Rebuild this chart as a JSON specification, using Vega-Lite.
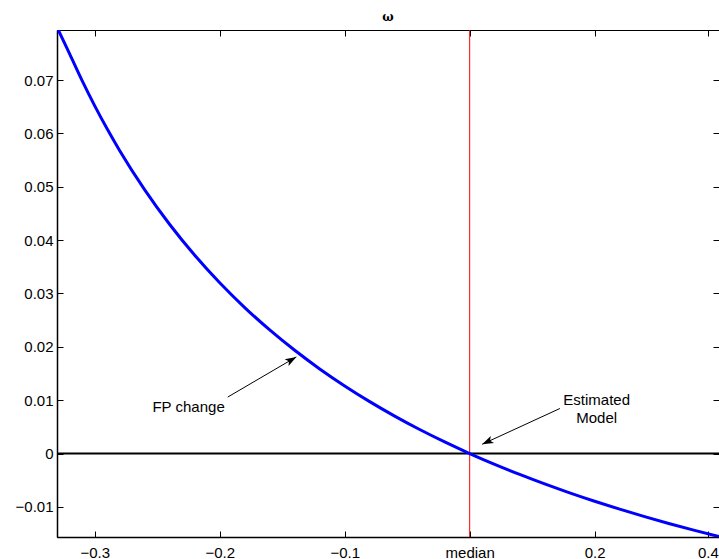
{
  "$schema": "https://vega.github.io/schema/vega-lite/v6.json",
  "autosize": {"type": "none"},
  "padding": {"left": 57, "top": 30, "right": 0, "bottom": 22},
  "width": 662,
  "height": 507,
  "background": "white",
  "config": {
    "view": {"stroke": "black", "strokeWidth": 1},
    "font": "Liberation Sans",
    "axis": {
      "grid": false,
      "domainColor": "black",
      "tickColor": "black",
      "labelColor": "black",
      "labelFont": "Liberation Sans",
      "labelFontSize": 15,
      "title": null
    }
  },
  "title": {"text": "ω", "fontSize": 12, "fontWeight": "bold", "font": "DejaVu Serif", "anchor": "middle", "offset": 6, "color": "black"},
  "resolve": {"axis": {"x": "independent", "y": "independent"}},
  "datasets": {
    "curve": [
      {"x": -0.33, "y": 0.0798},
      {"x": -0.32, "y": 0.07484},
      {"x": -0.31, "y": 0.06982},
      {"x": -0.30, "y": 0.06515},
      {"x": -0.29, "y": 0.06081},
      {"x": -0.28, "y": 0.05676},
      {"x": -0.26, "y": 0.04941},
      {"x": -0.24, "y": 0.04292},
      {"x": -0.22, "y": 0.03716},
      {"x": -0.20, "y": 0.03201},
      {"x": -0.18, "y": 0.02736},
      {"x": -0.16, "y": 0.02317},
      {"x": -0.14, "y": 0.01935},
      {"x": -0.12, "y": 0.01586},
      {"x": -0.10, "y": 0.01267},
      {"x": -0.08, "y": 0.00973},
      {"x": -0.06, "y": 0.00702},
      {"x": -0.04, "y": 0.00450},
      {"x": -0.02, "y": 0.00217},
      {"x": 0.00, "y": 0.0},
      {"x": 0.02, "y": -0.00203},
      {"x": 0.04, "y": -0.00392},
      {"x": 0.06, "y": -0.00570},
      {"x": 0.08, "y": -0.00737},
      {"x": 0.10, "y": -0.00894},
      {"x": 0.12, "y": -0.01042},
      {"x": 0.14, "y": -0.01182},
      {"x": 0.16, "y": -0.01315},
      {"x": 0.18, "y": -0.01440},
      {"x": 0.20, "y": -0.01559}
    ],
    "arrows": [
      {"label": "fp", "x": -0.1936, "y": 0.01058, "x2": -0.1387, "y2": 0.01811},
      {"label": "est", "x": 0.0722, "y": 0.00844, "x2": 0.0100, "y2": 0.00174}
    ],
    "texts": [
      {"text": "FP change", "x": -0.2249, "y": 0.00874},
      {"text": "Estimated", "x": 0.1016, "y": 0.0101},
      {"text": "Model", "x": 0.1016, "y": 0.00675}
    ]
  },
  "layer": [
    {
      "data": {"name": "curve"},
      "mark": {"type": "line", "color": "#0000ff", "strokeWidth": 3, "clip": true, "opacity": 0},
      "encoding": {
        "x": {"field": "x", "type": "quantitative",
          "scale": {"domain": [-0.3302, 0.1995], "nice": false, "zero": false},
          "axis": {"orient": "bottom", "values": [-0.3, -0.2, -0.1, 0, 0.1, 0.1906], "tickSize": -6, "labelPadding": 14, "domainWidth": 1.5,
            "labelExpr": "datum.value == 0 ? 'median' : datum.value > 0.15 ? '0.4' : datum.value > 0.05 ? '0.2' : format(datum.value, '.1f')"}},
        "y": {"field": "y", "type": "quantitative",
          "scale": {"domain": [-0.01564, 0.07937], "nice": false, "zero": false},
          "axis": {"orient": "left", "values": [-0.01, 0, 0.01, 0.02, 0.03, 0.04, 0.05, 0.06, 0.07], "tickSize": -6, "labelPadding": 10, "domainWidth": 1.5,
            "labelExpr": "datum.value == 0 ? '0' : format(datum.value, '.2f')"}}
      }
    },
    {
      "data": {"values": [{"y": 0}]},
      "mark": {"type": "rule", "color": "black", "strokeWidth": 2},
      "encoding": {
        "y": {"field": "y", "type": "quantitative",
          "axis": {"orient": "right", "values": [-0.01, 0, 0.01, 0.02, 0.03, 0.04, 0.05, 0.06, 0.07], "labels": false, "tickSize": -6, "domain": false}}
      }
    },
    {
      "data": {"values": [{"x": 0}]},
      "mark": {"type": "rule", "color": "#ff0000", "strokeWidth": 1},
      "encoding": {
        "x": {"field": "x", "type": "quantitative",
          "axis": {"orient": "top", "values": [-0.3, -0.2, -0.1, 0, 0.1, 0.1906], "labels": false, "tickSize": -6, "domain": false}}
      }
    },
    {
      "data": {"name": "curve"},
      "mark": {"type": "line", "color": "#0000ff", "strokeWidth": 3, "clip": true, "interpolate": "monotone"},
      "encoding": {
        "x": {"field": "x", "type": "quantitative", "axis": null},
        "y": {"field": "y", "type": "quantitative", "axis": null}
      }
    },
    {
      "data": {"name": "arrows"},
      "mark": {"type": "rule", "color": "black", "strokeWidth": 1},
      "encoding": {
        "x": {"field": "x", "type": "quantitative", "axis": null},
        "y": {"field": "y", "type": "quantitative", "axis": null},
        "x2": {"field": "x2"},
        "y2": {"field": "y2"}
      }
    },
    {
      "data": {"name": "arrows"},
      "transform": [{"filter": "datum.label == 'fp'"}],
      "mark": {"type": "point", "shape": "M0,0L0.45,1.3L0,1.0L-0.45,1.3Z", "filled": true, "color": "black", "opacity": 1, "size": 300, "angle": 59.7},
      "encoding": {
        "x": {"field": "x2", "type": "quantitative", "axis": null},
        "y": {"field": "y2", "type": "quantitative", "axis": null}
      }
    },
    {
      "data": {"name": "arrows"},
      "transform": [{"filter": "datum.label == 'est'"}],
      "mark": {"type": "point", "shape": "M0,0L0.45,1.3L0,1.0L-0.45,1.3Z", "filled": true, "color": "black", "opacity": 1, "size": 300, "angle": 245.3},
      "encoding": {
        "x": {"field": "x2", "type": "quantitative", "axis": null},
        "y": {"field": "y2", "type": "quantitative", "axis": null}
      }
    },
    {
      "data": {"name": "texts"},
      "mark": {"type": "text", "fontSize": 15, "font": "Liberation Sans", "color": "black", "align": "center", "baseline": "middle"},
      "encoding": {
        "x": {"field": "x", "type": "quantitative", "axis": null},
        "y": {"field": "y", "type": "quantitative", "axis": null},
        "text": {"field": "text"}
      }
    }
  ]
}
